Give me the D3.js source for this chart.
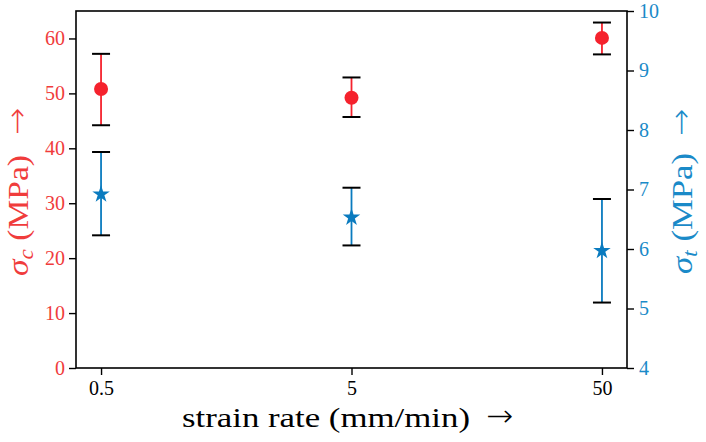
<!DOCTYPE html>
<html><head><meta charset="utf-8">
<script src="https://cdn.jsdelivr.net/npm/d3@7"></script>
<style>
body{margin:0;background:#fff;}
</style></head>
<body><svg id="c" width="706" height="442"></svg>
<script>
const rates = [0.5, 5, 50];
const rateLabels = ["0.5", "5", "50"];
const sigmaC = [50.8, 49.2, 60.1];
const sigmaCLow = [44.2, 45.7, 57.1];
const sigmaCHigh = [57.2, 52.9, 62.9];
const sigmaT = [6.92, 6.53, 5.97];
const sigmaTLow = [6.23, 6.06, 5.10];
const sigmaTHigh = [7.63, 7.03, 6.84];
const leftTicks = [0, 10, 20, 30, 40, 50, 60];
const rightTicks = [4, 5, 6, 7, 8, 9, 10];

const red = "#f5222d", redText = "#f03c3c";
const blue = "#0a7bbf", blueText = "#1a8ac8";
const SERIF = "'Liberation Serif', serif";
const L = 76, R = 627, T = 11, B = 368;
const svg = d3.select("#c");

const x = d3.scaleLog().domain([0.5 / Math.pow(10, 0.1), 50 * Math.pow(10, 0.1)]).range([L, R]);
const yL = d3.scaleLinear().domain([0, 65]).range([B, T]);
const yR = d3.scaleLinear().domain([4, 10]).range([B, T]);

// frame
svg.append("rect").attr("x", L).attr("y", T).attr("width", R - L).attr("height", B - T)
  .attr("fill", "none").attr("stroke", "#000").attr("stroke-width", 1.6);

// axes
const gx = svg.append("g").attr("transform", `translate(0,${B})`)
  .call(d3.axisBottom(x).tickValues(rates).tickFormat((d, i) => rateLabels[i]).tickSize(7).tickPadding(6));
const gl = svg.append("g").attr("transform", `translate(${L},0)`)
  .call(d3.axisLeft(yL).tickValues(leftTicks).tickFormat(d3.format("d")).tickSize(7).tickPadding(4));
const gr = svg.append("g").attr("transform", `translate(${R},0)`)
  .call(d3.axisRight(yR).tickValues(rightTicks).tickFormat(d3.format("d")).tickSize(7).tickPadding(5));
[gx, gl, gr].forEach(g => {
  g.attr("font-family", null).attr("font-size", null);
  g.select(".domain").remove();
  g.selectAll(".tick line").attr("stroke", "#000").attr("stroke-width", 1.4);
  g.selectAll(".tick text").style("font-size", "20px").style("font-family", SERIF);
});
gx.selectAll(".tick text").attr("fill", "#000");
gl.selectAll(".tick text").attr("fill", redText);
gr.selectAll(".tick text").attr("fill", blueText);

// error bars
function errBars(lo, hi, y, col) {
  const g = svg.append("g");
  rates.forEach((r, i) => {
    const cx = x(r);
    g.append("line").attr("x1", cx).attr("x2", cx).attr("y1", y(lo[i])).attr("y2", y(hi[i]))
      .attr("stroke", col).attr("stroke-width", 1.8);
    [lo[i], hi[i]].forEach(v => g.append("line").attr("x1", cx - 9).attr("x2", cx + 9)
      .attr("y1", y(v)).attr("y2", y(v)).attr("stroke", "#000").attr("stroke-width", 2));
  });
}
errBars(sigmaCLow, sigmaCHigh, yL, red);
errBars(sigmaTLow, sigmaTHigh, yR, blue);

svg.append("g").selectAll("circle").data(sigmaC).join("circle")
  .attr("cx", (d, i) => x(rates[i])).attr("cy", d => yL(d)).attr("r", 7).attr("fill", red);
svg.append("g").selectAll("path").data(sigmaT).join("path")
  .attr("d", d3.symbol(d3.symbolStar, 95))
  .attr("transform", (d, i) => `translate(${x(rates[i])},${yR(d)})`).attr("fill", blue);

// labels
function arrow(tx, ty, rot, col) {
  svg.append("text").attr("transform", `translate(${tx},${ty}) rotate(${rot})`)
    .style("font-family", "'DejaVu Sans'").style("font-weight", "200").style("font-size", "30px")
    .attr("textLength", 27).attr("lengthAdjust", "spacingAndGlyphs")
    .attr("fill", col).text("→");
}
svg.append("text").attr("x", 182).attr("y", 427)
  .style("font-family", SERIF).style("font-size", "28px").attr("fill", "#000")
  .attr("textLength", 288).attr("lengthAdjust", "spacingAndGlyphs")
  .text("strain rate (mm/min)");
arrow(486, 426, 0, "#000");

function yLabel(tx, sub, col, bottom, len, arrowBottom) {
  const t = svg.append("text").attr("transform", `translate(${tx},${bottom}) rotate(-90)`)
    .style("font-family", SERIF).style("font-size", "29px").attr("fill", col)
    .attr("textLength", len).attr("lengthAdjust", "spacingAndGlyphs");
  t.append("tspan").style("font-style", "italic").text("σ");
  t.append("tspan").style("font-style", "italic").style("font-size", "20px").attr("dy", 5).text(sub);
  t.append("tspan").attr("dy", -5).text(" (MPa)");
  arrow(tx - 1, arrowBottom, -90, col);
}
yLabel(28, "c", redText, 276, 121, 135);
yLabel(692, "t", blueText, 274, 121, 136);
</script></body></html>
